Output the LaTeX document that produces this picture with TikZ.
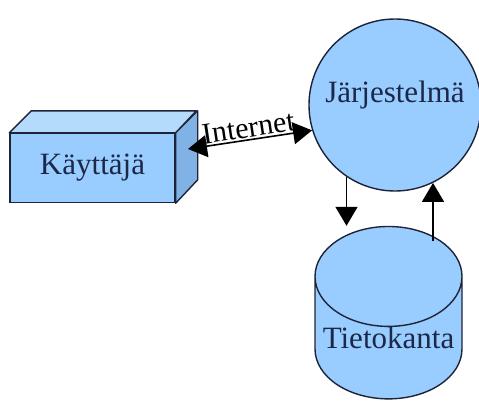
\documentclass[tikz,border=0pt]{standalone}
\usepackage{fontspec}
\setmainfont{Liberation Serif}
\usetikzlibrary{arrows.meta,shapes.geometric}
\definecolor{skyfill}{RGB}{153,204,255}
\definecolor{skytop}{RGB}{180,219,252}
\definecolor{skyside}{RGB}{128,178,230}
\definecolor{inkline}{RGB}{30,36,56}
\definecolor{inktext}{RGB}{28,40,72}
\begin{document}
\begin{tikzpicture}[x=1pt, y=-1pt, >={Triangle[width=22pt,length=19pt]},
  part/.style={draw=inkline, line width=1.4pt, fill=skyfill, text=inktext, inner sep=0pt,
    font=\fontsize{31}{36}\selectfont},
  face/.style={draw=inkline, line width=1.4pt, line join=round},
  link/.style={draw=black, line width=1.6pt}]
\useasboundingbox (0,0) rectangle (479,404);
% user: front face, then top and side of the box
\node[part, rectangle, minimum width=165pt, minimum height=69pt] (kay) at (92.5,168) {Käyttäjä};
\filldraw[face, fill=skytop] (kay.north west) -- ++(22,-22) -- ++(165,0) -- (kay.north east) -- cycle;
\filldraw[face, fill=skyside] (kay.north east) -- ++(22,-22) -- ++(0,69) -- (kay.south east) -- cycle;
\coordinate (kayside) at (188,149);
% system and database
\node[part, circle, minimum size=172pt, text depth=26pt] (jarj) at (395,105) {Järjestelmä};
\node[part, cylinder, shape border rotate=90, aspect=0.76, minimum width=147pt, minimum height=170pt] (tieto) at (388.5,338) {Tietokanta};
% connections
\draw[link, <->] (kayside) -- (jarj.197)
  node[midway, above=-2pt, sloped, font=\fontsize{30}{34}\selectfont] {Internet};
\draw[link, ->] (jarj.236) -- (jarj.236 |- tieto.north);
\draw[link, ->] (jarj.296 |- tieto.61) -- (jarj.296);
\end{tikzpicture}
\end{document}
